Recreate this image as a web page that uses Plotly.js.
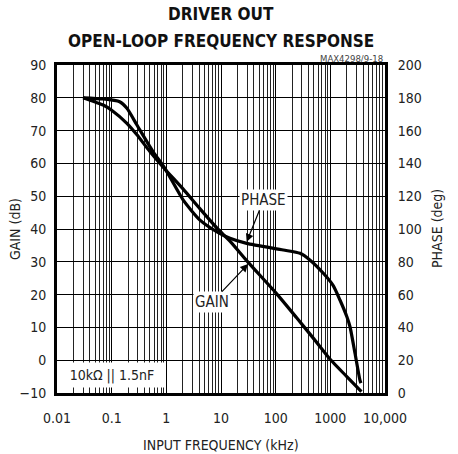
<!DOCTYPE html>
<html>
<head>
<meta charset="utf-8">
<script src="https://cdn.plot.ly/plotly-3.0.1.min.js"></script>
<style>html,body{margin:0;padding:0;background:#fff;}#chart{width:458px;height:454px;}</style>
</head>
<body>
<div id="chart"></div>
<script>
// Gain curve (kHz, dB)
const gainFreq = [0.03, 0.05, 0.07, 0.1, 0.19, 0.29, 0.5, 0.9, 2, 4.1, 8.3, 14.6, 30, 100, 240, 500, 1000, 2000, 3700];
const gainDb   = [80, 78.7, 77.8, 76.2, 72.2, 68.7, 63.6, 58.6, 52.3, 46.2, 40.4, 36.3, 30.2, 20.6, 13, 6.5, 0.2, -5, -9.6];
// Phase curve (kHz, deg)
const phaseFreq = [0.03, 0.07, 0.14, 0.19, 0.29, 0.57, 0.94, 2.04, 4.13, 8.3, 14.6, 29.5, 138, 279, 427, 745, 1130, 1500, 2000, 2290, 2820, 3470, 3630];
const phaseDeg  = [180, 179.3, 177.6, 173.6, 163.4, 147.2, 137, 117.6, 105.4, 98.4, 94.3, 91.2, 87.2, 85.2, 81, 73, 65.5, 56.7, 46.6, 40.4, 24.4, 8, 6];
// Axis ticks
const xTickVals = [0.01, 0.1, 1, 10, 100, 1000, 10000];
const xTickText = ['0.01', '0.1', '1', '10', '100', '1000', '10,000'];
const gainTicks = [-10, 0, 10, 20, 30, 40, 50, 60, 70, 80, 90];
const phaseTicks = [0, 20, 40, 60, 80, 100, 120, 140, 160, 180, 200];

const minorVals = [];
for (let d = 0.01; d < 10000; d *= 10) {
  for (let k = 2; k <= 9; k++) minorVals.push(+(d * k).toPrecision(3));
}

const FONT = 'DejaVu Sans Condensed, Liberation Sans Narrow, Arial Narrow, sans-serif';
const TXT = '#222';
const CLEAR = 'rgba(0,0,0,0)';
// pixel helpers for paper coordinates (plot area 57..385 x 65..393)
const px = v => (v - 57) / 328;
const py = v => (393 - v) / 328;

const traces = [
  {x: gainFreq, y: gainDb, type: 'scatter', mode: 'lines', line: {color: '#000', width: 3.2, shape: 'spline', smoothing: 0.6}, xaxis: 'x', yaxis: 'y', hoverinfo: 'skip'},
  {x: phaseFreq, y: phaseDeg, type: 'scatter', mode: 'lines', line: {color: '#000', width: 3.2, shape: 'spline', smoothing: 0.6}, xaxis: 'x', yaxis: 'y2', hoverinfo: 'skip'}
];

const layout = {
  width: 458, height: 454,
  margin: {l: 57, r: 73, t: 65, b: 61},
  paper_bgcolor: '#fff', plot_bgcolor: '#fff',
  showlegend: false,
  font: {family: FONT, size: 14, color: TXT},
  xaxis: {
    type: 'log', range: [-2, 4],
    tickvals: xTickVals, ticktext: xTickText,
    showgrid: true, gridcolor: '#000', gridwidth: 1,
    minor: {tickvals: minorVals, showgrid: true, gridcolor: '#222', gridwidth: 1, ticks: ''},
    ticks: 'outside', ticklen: 10, tickcolor: CLEAR,
    showline: true, linewidth: 3, linecolor: '#000', mirror: true,
    zeroline: false,
    tickfont: {family: FONT, size: 14, color: TXT}
  },
  yaxis: {
    range: [-10, 90], tickvals: gainTicks,
    showgrid: true, gridcolor: '#000', gridwidth: 1,
    ticks: 'outside', ticklen: 5, tickcolor: CLEAR,
    showline: true, linewidth: 3, linecolor: '#000', mirror: true,
    zeroline: false,
    tickfont: {family: FONT, size: 14, color: TXT}
  },
  yaxis2: {
    range: [0, 200], tickvals: phaseTicks, overlaying: 'y', side: 'right',
    showgrid: false, zeroline: false, showline: false,
    ticks: 'outside', ticklen: 9, tickcolor: CLEAR,
    tickfont: {family: FONT, size: 14, color: TXT}
  },
  annotations: [
    {xref: 'paper', yref: 'paper', x: px(221.5), y: py(14), xanchor: 'center', yanchor: 'middle', text: '<b>DRIVER OUT</b>', showarrow: false, font: {family: FONT, size: 17, color: '#111'}},
    {xref: 'paper', yref: 'paper', x: px(221.5), y: py(41), xanchor: 'center', yanchor: 'middle', text: '<b>OPEN-LOOP FREQUENCY RESPONSE</b>', showarrow: false, font: {family: FONT, size: 17, color: '#111'}},
    {xref: 'paper', yref: 'paper', x: px(15), y: py(229), xanchor: 'center', yanchor: 'middle', textangle: -90, text: 'GAIN (dB)', showarrow: false, font: {family: FONT, size: 14, color: TXT}},
    {xref: 'paper', yref: 'paper', x: px(437), y: py(229), xanchor: 'center', yanchor: 'middle', textangle: -90, text: 'PHASE (deg)', showarrow: false, font: {family: FONT, size: 14, color: TXT}},
    {xref: 'paper', yref: 'paper', x: px(221), y: py(445), xanchor: 'center', yanchor: 'middle', text: 'INPUT FREQUENCY (kHz)', showarrow: false, font: {family: FONT, size: 14, color: TXT}},
    {xref: 'paper', yref: 'paper', x: 1.0, y: py(58), xanchor: 'right', yanchor: 'middle', text: 'MAX4298/9-18', showarrow: false, font: {family: FONT, size: 9.5, color: '#444'}},
    {xref: 'paper', yref: 'paper', x: px(59), y: py(375), xanchor: 'left', yanchor: 'middle', text: '10kΩ || 1.5nF', showarrow: false, bgcolor: '#fff', width: 102, height: 22, font: {family: FONT, size: 14, color: TXT}},
    {x: Math.log10(29.5), y: 36.1, xref: 'x', yref: 'y', text: 'PHASE', showarrow: true, ax: 17, ay: -42, arrowhead: 2, arrowsize: 1.3, arrowwidth: 1.2, arrowcolor: '#000', bgcolor: '#fff', font: {family: FONT, size: 15, color: TXT}},
    {x: Math.log10(31.2), y: 29.3, xref: 'x', yref: 'y', text: 'GAIN', showarrow: true, ax: -36, ay: 38, arrowhead: 2, arrowsize: 1.3, arrowwidth: 1.2, arrowcolor: '#000', bgcolor: '#fff', font: {family: FONT, size: 15, color: TXT}}
  ]
};

Plotly.newPlot('chart', traces, layout, {staticPlot: true, displayModeBar: false});
</script>
</body>
</html>
